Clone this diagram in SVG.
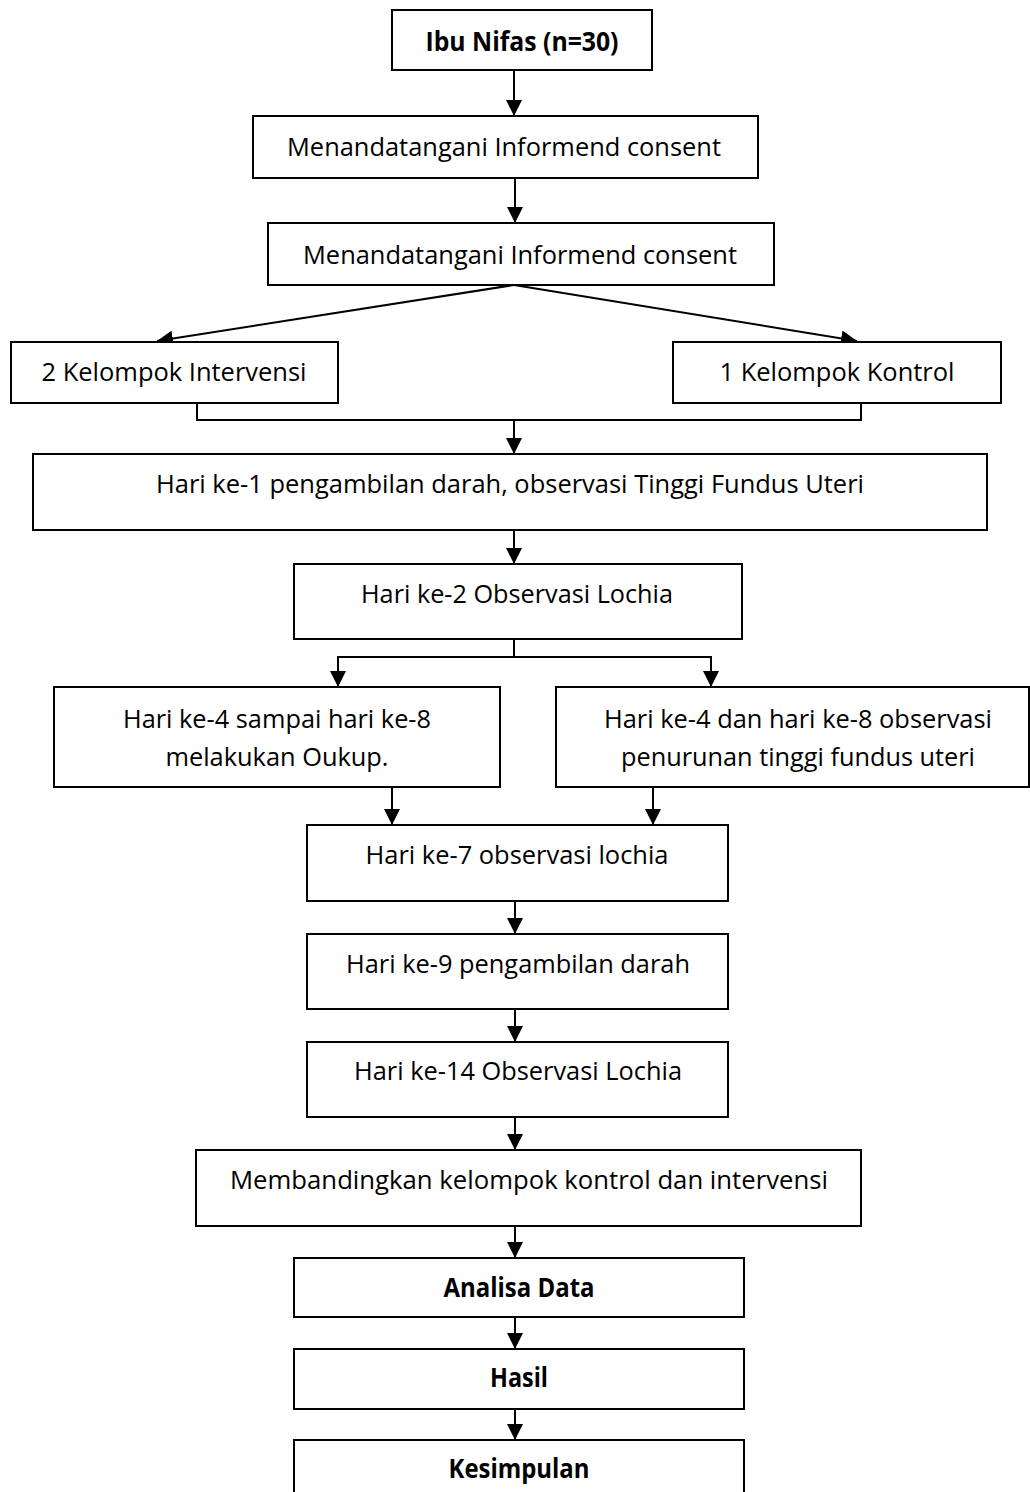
<svg xmlns="http://www.w3.org/2000/svg" width="1030" height="1492" viewBox="0 0 1030 1492">
<defs>
<marker id="arr" markerUnits="userSpaceOnUse" markerWidth="18" markerHeight="16" refX="16" refY="8" orient="auto">
<path d="M0,0 L16,8 L0,16 Z" fill="#000"/>
</marker>
<style>
.box{fill:#fff;stroke:#000;stroke-width:2}
.t{font-family:"Open Sans","Noto Sans","Liberation Sans",sans-serif;font-size:26px;fill:#000;text-anchor:middle}
.b{font-weight:700}
.c{fill:none;stroke:#000;stroke-width:2}
.a{fill:none;stroke:#000;stroke-width:2;marker-end:url(#arr)}
</style>
</defs>
<rect width="1030" height="1492" fill="#fff"/>
<g id="connectors">
<line class="a" x1="514" y1="70" x2="514" y2="116"/>
<line class="a" x1="515" y1="178" x2="515" y2="223"/>
<line class="a" x1="514" y1="285" x2="157" y2="341"/>
<line class="a" x1="514" y1="285" x2="857" y2="341"/>
<polyline class="c" points="197,403 197,420 861,420 861,403"/>
<line class="a" x1="514" y1="420" x2="514" y2="454"/>
<line class="a" x1="514" y1="530" x2="514" y2="564"/>
<line class="c" x1="514" y1="639" x2="514" y2="657"/>
<polyline class="a" points="514,657 338,657 338,687"/>
<polyline class="a" points="514,657 711,657 711,687"/>
<line class="a" x1="392" y1="787" x2="392" y2="825"/>
<line class="a" x1="653" y1="787" x2="653" y2="825"/>
<line class="a" x1="515" y1="901" x2="515" y2="934"/>
<line class="a" x1="515" y1="1009" x2="515" y2="1042"/>
<line class="a" x1="515" y1="1117" x2="515" y2="1150"/>
<line class="a" x1="515" y1="1226" x2="515" y2="1258"/>
<line class="a" x1="515" y1="1317" x2="515" y2="1349"/>
<line class="a" x1="515" y1="1409" x2="515" y2="1440"/>
</g>
<g id="n1"><rect class="box" x="392" y="10" width="260" height="60"/><text class="t b" x="522" y="51" textLength="193" lengthAdjust="spacingAndGlyphs">Ibu Nifas (n=30)</text></g>
<g id="n2"><rect class="box" x="253" y="116" width="505" height="62"/><text class="t" x="504" y="156" textLength="434" lengthAdjust="spacingAndGlyphs">Menandatangani Informend consent</text></g>
<g id="n3"><rect class="box" x="268" y="223" width="506" height="62"/><text class="t" x="520" y="264" textLength="434" lengthAdjust="spacingAndGlyphs">Menandatangani Informend consent</text></g>
<g id="n4"><rect class="box" x="11" y="342" width="327" height="61"/><text class="t" x="174" y="381" textLength="265" lengthAdjust="spacingAndGlyphs">2 Kelompok Intervensi</text></g>
<g id="n5"><rect class="box" x="673" y="342" width="328" height="61"/><text class="t" x="837" y="381" textLength="235" lengthAdjust="spacingAndGlyphs">1 Kelompok Kontrol</text></g>
<g id="n6"><rect class="box" x="33" y="454" width="954" height="76"/><text class="t" x="510" y="493" textLength="708" lengthAdjust="spacingAndGlyphs">Hari ke-1 pengambilan darah, observasi Tinggi Fundus Uteri</text></g>
<g id="n7"><rect class="box" x="294" y="564" width="448" height="75"/><text class="t" x="517" y="603" textLength="312" lengthAdjust="spacingAndGlyphs">Hari ke-2 Observasi Lochia</text></g>
<g id="n8"><rect class="box" x="54" y="687" width="446" height="100"/><text class="t" x="277" y="728" textLength="308" lengthAdjust="spacingAndGlyphs">Hari ke-4 sampai hari ke-8</text><text class="t" x="277" y="766" textLength="223" lengthAdjust="spacingAndGlyphs">melakukan Oukup.</text></g>
<g id="n9"><rect class="box" x="556" y="687" width="473" height="100"/><text class="t" x="798" y="728" textLength="388" lengthAdjust="spacingAndGlyphs">Hari ke-4 dan hari ke-8 observasi</text><text class="t" x="798" y="766" textLength="354" lengthAdjust="spacingAndGlyphs">penurunan tinggi fundus uteri</text></g>
<g id="n10"><rect class="box" x="307" y="825" width="421" height="76"/><text class="t" x="517" y="864" textLength="303" lengthAdjust="spacingAndGlyphs">Hari ke-7 observasi lochia</text></g>
<g id="n11"><rect class="box" x="307" y="934" width="421" height="75"/><text class="t" x="518" y="973" textLength="344" lengthAdjust="spacingAndGlyphs">Hari ke-9 pengambilan darah</text></g>
<g id="n12"><rect class="box" x="307" y="1042" width="421" height="75"/><text class="t" x="518" y="1080" textLength="328" lengthAdjust="spacingAndGlyphs">Hari ke-14 Observasi Lochia</text></g>
<g id="n13"><rect class="box" x="196" y="1150" width="665" height="76"/><text class="t" x="529" y="1189" textLength="598" lengthAdjust="spacingAndGlyphs">Membandingkan kelompok kontrol dan intervensi</text></g>
<g id="n14"><rect class="box" x="294" y="1258" width="450" height="59"/><text class="t b" x="519" y="1297" textLength="151" lengthAdjust="spacingAndGlyphs">Analisa Data</text></g>
<g id="n15"><rect class="box" x="294" y="1349" width="450" height="60"/><text class="t b" x="519" y="1387" textLength="58" lengthAdjust="spacingAndGlyphs">Hasil</text></g>
<g id="n16"><rect class="box" x="294" y="1440" width="450" height="60"/><text class="t b" x="519" y="1478" textLength="141" lengthAdjust="spacingAndGlyphs">Kesimpulan</text></g>
</svg>
